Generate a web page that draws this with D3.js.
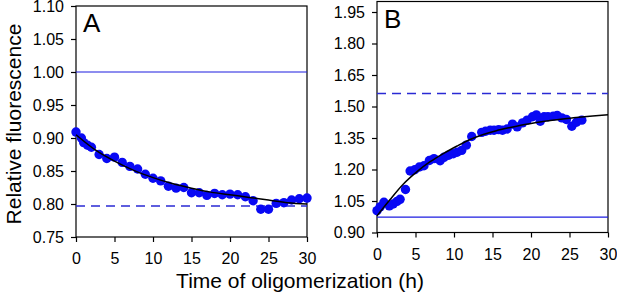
<!DOCTYPE html>
<html>
<head>
<meta charset="utf-8">
<script src="https://cdn.jsdelivr.net/npm/d3@7"></script>
<style>
  body { margin:0; background:#fff; }
  svg text { font-family: Arial, "Liberation Sans", sans-serif; fill:#000; }
  .axis path, .axis line { stroke:#000; stroke-width:1.2; }
</style>
</head>
<body>
<div id="chart"></div>
<script>
/* data */
var xTicks = [0, 5, 10, 15, 20, 25, 30];
var yTicksA = [0.75, 0.80, 0.85, 0.90, 0.95, 1.00, 1.05, 1.10];
var yTicksB = [0.90, 1.05, 1.20, 1.35, 1.50, 1.65, 1.80, 1.95];

// panel A
var timeA = [0, 0.7, 1, 1.5, 2, 3, 4, 5, 6, 7, 8, 9, 10, 11, 12, 13, 14, 15, 16, 17, 18, 19, 20, 21, 22, 23, 24, 25, 26, 27, 28, 29, 30];
var fluorA = [0.909, 0.900, 0.893, 0.889, 0.886, 0.875, 0.869, 0.871, 0.863, 0.857, 0.853, 0.845, 0.839, 0.835, 0.827, 0.824, 0.825, 0.817, 0.817, 0.813, 0.816, 0.814, 0.815, 0.814, 0.811, 0.805, 0.792, 0.792, 0.801, 0.802, 0.806, 0.808, 0.809];
var fitTimeA = [0, 2.5, 5, 7.5, 10, 12.5, 15, 17.5, 20, 22.5, 25, 27.5, 30];
var fitA = [0.905, 0.882, 0.865, 0.851, 0.840, 0.831, 0.824, 0.818, 0.814, 0.810, 0.806, 0.802, 0.800];
var solidA = 1.00, dashedA = 0.797;

// panel B
var timeB = [0, 0.4, 0.9, 1.6, 2.1, 2.6, 3.0, 3.7, 4.3, 4.9, 5.5, 6.1, 6.8, 7.4, 8.2, 8.7, 9.3, 9.9, 10.4, 11.0, 11.6, 12.3, 13.6, 14.1, 14.7, 15.2, 15.8, 16.3, 16.9, 17.6, 18.2, 18.9, 19.5, 20.2, 20.7, 21.2, 21.7, 22.2, 22.9, 23.4, 24.0, 24.6, 25.3, 25.9, 26.6];
var fluorB = [1.004, 1.022, 1.044, 1.027, 1.036, 1.048, 1.058, 1.105, 1.193, 1.199, 1.212, 1.218, 1.243, 1.252, 1.242, 1.258, 1.268, 1.275, 1.282, 1.291, 1.316, 1.357, 1.377, 1.382, 1.387, 1.387, 1.390, 1.387, 1.393, 1.416, 1.403, 1.422, 1.435, 1.451, 1.460, 1.430, 1.451, 1.451, 1.454, 1.457, 1.446, 1.438, 1.406, 1.425, 1.435];
var fitTimeB = [0, 1.7, 3.4, 5.2, 6.9, 8.6, 10.4, 12.1, 13.8, 15.5, 17.3, 19, 20.7, 23, 25.5, 28, 30];
var fitB = [0.979, 1.057, 1.130, 1.190, 1.237, 1.276, 1.312, 1.343, 1.367, 1.385, 1.400, 1.413, 1.424, 1.436, 1.446, 1.455, 1.461];
var solidB = 0.973, dashedB = 1.562;

var W = 617, H = 297;
var svg = d3.select("#chart").append("svg")
  .attr("width", W)
  .attr("height", H);

function panel(opt) {
  var w = 231, h = 231;
  var g = svg.append("g")
    .attr("transform", "translate(" + opt.left + "," + opt.top + ")");

  var x = d3.scaleLinear().domain([0, 30]).range([0, w]);
  var y = d3.scaleLinear().domain(opt.yDomain).range([h, 0]);

  // frame
  g.append("rect")
    .attr("width", w).attr("height", h)
    .attr("fill", "none").attr("stroke", "#000").attr("stroke-width", 1.2);

  g.append("g")
    .attr("class", "x axis")
    .attr("transform", "translate(0," + h + ")")
    .call(d3.axisBottom(x).tickValues(xTicks).tickSize(5).tickPadding(11).tickSizeOuter(0))
    .selectAll("text").style("font-size", "16px");

  g.append("g")
    .attr("class", "y axis")
    .call(d3.axisLeft(y).tickValues(opt.yTicks).tickSize(5).tickPadding(7).tickSizeOuter(0)
      .tickFormat(d3.format(".2f")))
    .selectAll("text").style("font-size", "16px");

  g.selectAll(".domain").remove();

  // reference lines
  g.append("line")
    .attr("x1", 0).attr("x2", w)
    .attr("y1", y(opt.solid)).attr("y2", y(opt.solid))
    .attr("stroke", "#1c1ce0").attr("stroke-width", 1.2);
  g.append("line")
    .attr("x1", 0).attr("x2", w)
    .attr("y1", y(opt.dashed)).attr("y2", y(opt.dashed))
    .attr("stroke", "#2a2ad4").attr("stroke-width", 1.4)
    .attr("stroke-dasharray", "9,6");

  // points
  g.selectAll("circle").data(opt.t)
    .enter()
      .append("circle")
        .attr("cx", (d) => x(d))
        .attr("cy", (d, i) => y(opt.v[i]))
        .attr("r", 4.7)
        .attr("fill", "#0808f4");

  // fitted curve
  var line = d3.line()
    .x((d) => x(d[0]))
    .y((d) => y(d[1]))
    .curve(d3.curveMonotoneX);
  g.append("path")
    .datum(opt.fitT.map((d, i) => [d, opt.fitV[i]]))
    .attr("d", line)
    .attr("fill", "none")
    .attr("stroke", "#000")
    .attr("stroke-width", 1.5);

  g.append("text")
    .attr("x", 7).attr("y", 26)
    .style("font-size", "26px")
    .text(opt.label);
}

panel({ left: 76, top: 6, yDomain: [0.75, 1.10], yTicks: yTicksA,
  t: timeA, v: fluorA, fitT: fitTimeA, fitV: fitA,
  solid: solidA, dashed: dashedA, label: "A" });

panel({ left: 377, top: 1.5, yDomain: [0.90, 2.00], yTicks: yTicksB,
  t: timeB, v: fluorB, fitT: fitTimeB, fitV: fitB,
  solid: solidB, dashed: dashedB, label: "B" });

// axis titles
svg.append("text")
  .attr("transform", "translate(21,124) rotate(-90)")
  .attr("text-anchor", "middle")
  .style("font-size", "21px")
  .text("Relative fluorescence");

svg.append("text")
  .attr("x", 300).attr("y", 288)
  .attr("text-anchor", "middle")
  .style("font-size", "21px")
  .text("Time of oligomerization (h)");
</script>
</body>
</html>
